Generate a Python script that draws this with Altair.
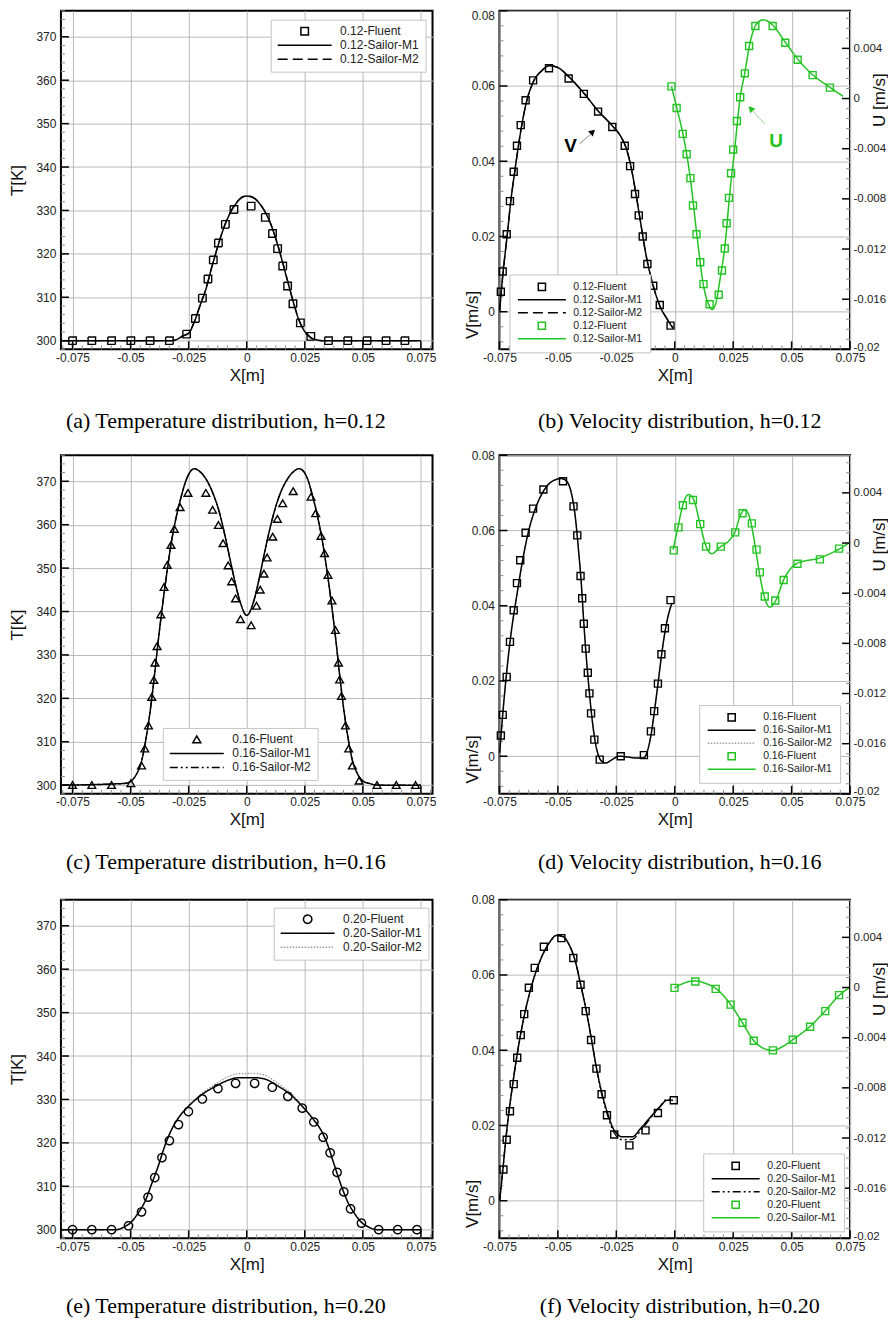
import altair as alt
import pandas as pd

FONT = "Liberation Sans"
SERIF = "Liberation Serif"
GREEN = "#22c322"
GRID = "#b9b9b9"
LBL = "toString(datum.value)"

LINE_SYM = "M-1,0H1"
SQ_L = "M-0.14,-0.14H0.14V0.14H-0.14Z"
SQ_R = "M-0.15,-0.15H0.15V0.15H-0.15Z"
TRI = "M0,-0.13L0.145,0.12L-0.145,0.12Z"
CIRC = "M0.155,0A0.155,0.155 0 1,1 -0.155,0A0.155,0.155 0 1,1 0.155,0Z"

WL, WR, H = 372, 351, 339

# ---------------- axis ticks ----------------
XT = [-0.075, -0.05, -0.025, 0.0, 0.025, 0.05, 0.075]
TT = [300, 310, 320, 330, 340, 350, 360, 370]
VT = [0.0, 0.02, 0.04, 0.06, 0.08]
UT = [-0.02, -0.016, -0.012, -0.008, -0.004, 0.0, 0.004]
XT_MINOR = [round(-0.075 + i * 0.025 / 6, 6) for i in range(-1, 38) if i % 6 != 0]
TT_MINOR = [v for v in range(298, 377, 2) if v % 10 != 0]
VT_MINOR = [round(-0.008 + i * 0.004, 4) for i in range(0, 23) if round(-0.008 + i * 0.004, 4) not in VT]
UT_MINOR = [round(-0.02 + i * 0.0008, 5) for i in range(0, 34) if i % 5 != 0]

# ---------------- (a) h=0.12 temperature ----------------
a_fl_x = [-0.0750, -0.0667, -0.0582, -0.0499, -0.0416, -0.0333, -0.0259, -0.0221, -0.0191, -0.0167,
          -0.0144, -0.0122, -0.0092, -0.0055, 0.0019, 0.0080, 0.0111, 0.0133, 0.0155, 0.0176,
          0.0199, 0.0231, 0.0276, 0.0352, 0.0435, 0.0518, 0.0600, 0.0681]
a_fl_T = [300, 300, 300, 300, 300, 300, 301.5, 305.1, 309.8, 314.2,
          318.6, 322.5, 326.8, 330.2, 331.0, 328.4, 324.7, 321.2, 317.2, 312.6,
          308.5, 304.1, 301.0, 300, 300, 300, 300, 300]
a_m1_x = [-0.08, -0.0325, -0.03, -0.0275, -0.025, -0.0225, -0.02, -0.0175, -0.015, -0.0125, -0.01,
          -0.0075, -0.005, -0.0025, 0.0, 0.0025, 0.005, 0.0075, 0.01, 0.0125, 0.015, 0.0175, 0.02,
          0.0225, 0.025, 0.0275, 0.03, 0.0325, 0.075]
a_m1_T = [300.0, 300.0, 300.3, 301.1, 301.7, 304.4, 308.2, 312.0, 317.0, 321.6, 325.8,
          329.0, 331.3, 332.8, 333.3, 333.0, 331.9, 330.0, 327.3, 323.5, 318.9, 313.9, 309.0,
          304.7, 302.1, 300.7, 300.2, 300.0, 300.0]
a_m2_x = a_m1_x
a_m2_T = [300.0, 300.0, 300.3, 301.1, 301.8, 304.5, 308.3, 312.1, 317.1, 321.7, 325.9,
          329.1, 331.4, 332.9, 333.4, 333.1, 332.0, 330.1, 327.4, 323.6, 319.0, 314.0, 309.1,
          304.8, 302.2, 300.8, 300.2, 300.0, 300.0]

# ---------------- (c) h=0.16 temperature ----------------
c_fl_x = [-0.0750, -0.0667, -0.0582, -0.0499, -0.0453, -0.0439, -0.0423, -0.0409, -0.0400, -0.0395,
          -0.0386, -0.0370, -0.0356, -0.0342, -0.0326, -0.0312, -0.0287, -0.0253, -0.0176, -0.0147,
          -0.0122, -0.0102, -0.0080, -0.0065, -0.0048, -0.0027, 0.0019, 0.0042, 0.0058, 0.0074,
          0.0088, 0.0112, 0.0132, 0.0155, 0.0200, 0.0277, 0.0297, 0.0320, 0.0335, 0.0350,
          0.0367, 0.0382, 0.0395, 0.0400, 0.0408, 0.0425, 0.0439, 0.0455, 0.0484, 0.0561,
          0.0644, 0.0727]
c_fl_T = [300, 300, 300, 300.4, 304.5, 308.4, 313.7, 320.3, 324.2, 328.2,
          332.0, 339.3, 345.6, 350.7, 355.3, 359.0, 364.0, 367.3, 367.3, 363.4,
          359.9, 355.7, 350.6, 346.9, 343.0, 338.2, 336.8, 341.3, 345.0, 348.7,
          352.4, 357.2, 361.3, 364.9, 367.7, 366.4, 362.6, 357.4, 353.4, 348.4,
          342.5, 335.7, 328.2, 324.3, 320.5, 313.7, 308.4, 304.5, 301.0, 300,
          300, 300]
c_m1_x = [-0.08, -0.0525, -0.0499, -0.0475, -0.0453, -0.0432, -0.0413, -0.0396, -0.0382,
          -0.0365, -0.0346, -0.0325, -0.0303, -0.0282, -0.0260, -0.0239, -0.0225,
          -0.0203, -0.0174, -0.0146, -0.0117, -0.0093, -0.0070, -0.0048, -0.0027, 0.0,
          0.0028, 0.0048, 0.0069, 0.0092, 0.0117, 0.0145, 0.0174, 0.0203, 0.0224,
          0.0241, 0.0263, 0.0284, 0.0305, 0.0327, 0.0349, 0.0368, 0.0385,
          0.0399, 0.0416, 0.0435, 0.0456, 0.0478, 0.0502, 0.0528, 0.0564, 0.075]
c_m1_T = [300, 300.4, 300.9, 302.5, 305.5, 311.3, 318.2, 325.9, 332.8,
          340.4, 348.1, 355.8, 361.9, 366.5, 370.4, 372.5, 372.9,
          372.3, 370.4, 367.3, 362.7, 357.3, 351.6, 346.2, 342.0, 339.1,
          342.0, 346.2, 351.6, 357.3, 362.7, 367.3, 370.4, 372.3, 372.9,
          372.5, 370.4, 366.5, 361.9, 355.8, 348.1, 340.4, 332.8,
          325.9, 318.2, 311.3, 305.5, 302.5, 300.9, 300.4, 300, 300]
c_m2_x = c_m1_x
c_m2_T = c_m1_T

# ---------------- (e) h=0.20 temperature ----------------
e_fl_x = [-0.0750, -0.0667, -0.0582, -0.0509, -0.0453, -0.0425, -0.0396, -0.0365, -0.0333, -0.0294,
          -0.0251, -0.0191, -0.0124, -0.0048, 0.0034, 0.0110, 0.0177, 0.0239, 0.0289, 0.0329,
          0.0359, 0.0389, 0.0418, 0.0447, 0.0494, 0.0568, 0.0650, 0.0733]
e_fl_T = [300, 300, 300, 300.9, 304.1, 307.5, 312.0, 316.6, 320.5, 324.2,
          327.2, 330.1, 332.5, 333.7, 333.7, 332.8, 330.7, 328.0, 324.8, 321.3,
          317.7, 313.2, 308.7, 304.8, 301.5, 300, 300, 300]
e_m1_x = [-0.08, -0.0561, -0.0525, -0.0496, -0.0468, -0.0439, -0.0411, -0.0382, -0.0354, -0.0325,
          -0.0296, -0.0253, -0.0196, -0.0138, -0.0081, -0.0038, 0.0034, 0.0077, 0.0134, 0.0191,
          0.0241, 0.0284, 0.0320, 0.0349, 0.0377, 0.0406, 0.0435, 0.0463, 0.0492, 0.0521,
          0.0564, 0.075]
e_m1_T = [300, 300, 300.7, 301.8, 303.8, 306.4, 310.3, 314.5, 319.1, 322.9,
          325.6, 328.3, 331.0, 332.9, 334.4, 335.0, 335.0, 334.7, 333.1, 331.0,
          328.3, 325.6, 322.9, 319.5, 314.9, 310.3, 306.4, 303.8, 301.8, 300.7,
          300, 300]
e_m2_x = e_m1_x
e_m2_T = [300, 300, 300.7, 301.8, 303.8, 306.4, 310.3, 314.5, 319.1, 322.9,
          325.6, 328.3, 331.3, 333.4, 335.2, 335.9, 336.0, 335.6, 333.7, 331.4,
          328.5, 325.7, 322.9, 319.5, 314.9, 310.3, 306.4, 303.8, 301.8, 300.7,
          300, 300]

# ---------------- (b) h=0.12 velocity ----------------
b_vfl_x = [-0.0744, -0.0736, -0.0719, -0.0705, -0.0689, -0.0675, -0.0659, -0.0638, -0.0606, -0.0538,
           -0.0454, -0.0389, -0.0328, -0.0267, -0.0214, -0.0191, -0.0170, -0.0154, -0.0137, -0.0117,
           -0.0092, -0.0064, -0.0018]
b_vfl_V = [0.0053, 0.0107, 0.0206, 0.0294, 0.0372, 0.0441, 0.0496, 0.0562, 0.0615, 0.0647,
           0.0620, 0.0579, 0.0532, 0.0491, 0.0441, 0.0387, 0.0313, 0.0256, 0.0200, 0.0127,
           0.0069, 0.0018, -0.0037]
b_vm1_x = [-0.0749, -0.0740, -0.0730, -0.0717, -0.0702, -0.0683, -0.0662, -0.0638, -0.0606, -0.0570,
           -0.0535, -0.0500, -0.0454, -0.0389, -0.0328, -0.0267, -0.0233, -0.0209, -0.0188, -0.0167,
           -0.0146, -0.0125, -0.0096, -0.0064, -0.0033, -0.0007]
b_vm1_V = [0.0003, 0.0069, 0.0131, 0.0202, 0.0291, 0.0379, 0.0468, 0.0548, 0.0610, 0.0640,
           0.0654, 0.0649, 0.0625, 0.0581, 0.0534, 0.0494, 0.0468, 0.0437, 0.0388, 0.0317,
           0.0237, 0.0158, 0.0078, 0.0016, -0.0019, -0.0044]
b_vm2_x = b_vm1_x
b_vm2_V = b_vm1_V
b_ufl_x = [-0.0014, 0.0008, 0.0034, 0.0051, 0.0067, 0.0078, 0.0093, 0.0109, 0.0123, 0.0149,
           0.0188, 0.0202, 0.0214, 0.0222, 0.0232, 0.0241, 0.0250, 0.0266, 0.0280, 0.0300,
           0.0318, 0.0345, 0.0419, 0.0473, 0.0526, 0.0590, 0.0664]
b_ufl_U = [0.00097, -0.00075, -0.00282, -0.00444, -0.00635, -0.00853, -0.01082, -0.01305, -0.01480, -0.01640,
           -0.01565, -0.01371, -0.01196, -0.00994, -0.00792, -0.00596, -0.00407, -0.00179, 0.00010, 0.00201,
           0.00419, 0.00578, 0.00578, 0.00445, 0.00309, 0.00187, 0.00087]
b_um1_x = [-0.0014, 0.0010, 0.0038, 0.0067, 0.0095, 0.0123, 0.0144, 0.0160, 0.0177, 0.0194,
           0.0215, 0.0236, 0.0258, 0.0279, 0.0300, 0.0321, 0.0347, 0.0378, 0.0419, 0.0473,
           0.0526, 0.0590, 0.0664, 0.0720]
b_um1_U = [0.00097, -0.00084, -0.00309, -0.00641, -0.01092, -0.01491, -0.01636, -0.01682, -0.01623, -0.01438,
           -0.01172, -0.00747, -0.00375, -0.00004, 0.00208, 0.00434, 0.00586, 0.00628, 0.00586, 0.00448,
           0.00315, 0.00190, 0.00089, 0.00018]
# annotations (b)
b_label_V = {"x": [-0.0446], "y": [0.0441], "t": ["V"]}
b_arrow_V = {"x": [-0.0408], "y": [0.0446], "x2": [-0.0361], "y2": [0.0471]}
b_head_V = {"x": [-0.0351], "y": [0.0478]}
b_label_U = {"x": [0.0434], "y": [-0.00335], "t": ["U"]}
b_arrow_U = {"x": [0.0385], "y": [-0.00203], "x2": [0.0333], "y2": [-0.00097]}
b_head_U = {"x": [0.0325], "y": [-0.0008]}

# ---------------- (d) h=0.16 velocity ----------------
d_vfl_x = [-0.0744, -0.0736, -0.0719, -0.0705, -0.0689, -0.0675, -0.0661, -0.0638, -0.0606, -0.0562,
           -0.0478, -0.0433, -0.0417, -0.0403, -0.0396, -0.0389, -0.0381, -0.0372, -0.0365, -0.0358,
           -0.0344, -0.0321, -0.0231, -0.0132, -0.0102, -0.0088, -0.0072, -0.0057, -0.0042, -0.0018]
d_vfl_V = [0.0055, 0.0110, 0.0211, 0.0304, 0.0388, 0.0460, 0.0521, 0.0594, 0.0658, 0.0709,
           0.0731, 0.0664, 0.0587, 0.0479, 0.0420, 0.0352, 0.0286, 0.0222, 0.0167, 0.0114,
           0.0044, -0.0009, 0.0, 0.0003, 0.0066, 0.0120, 0.0193, 0.0271, 0.0340, 0.0415]
d_vm1_x = [-0.0749, -0.0740, -0.0729, -0.0715, -0.0698, -0.0676, -0.0655, -0.0627, -0.0592, -0.0556,
           -0.0521, -0.0485, -0.0464, -0.0443, -0.0426, -0.0412, -0.0400, -0.0391, -0.0381, -0.0369,
           -0.0358, -0.0344, -0.0330, -0.0313, -0.0294, -0.0273, -0.0238, -0.0202, -0.0160, -0.0132,
           -0.0115, -0.0100, -0.0086, -0.0072, -0.0057, -0.0040, -0.0025, -0.0011]
d_vm1_V = [0.0009, 0.0080, 0.0160, 0.0248, 0.0337, 0.0426, 0.0506, 0.0594, 0.0665, 0.0710,
           0.0732, 0.0738, 0.0732, 0.0701, 0.0639, 0.0550, 0.0461, 0.0373, 0.0284, 0.0195,
           0.0124, 0.0053, 0.0009, -0.0013, -0.0018, -0.0011, 0.0, -0.0002, -0.0005, -0.0004,
           0.0018, 0.0062, 0.0124, 0.0191, 0.0266, 0.0337, 0.0381, 0.0408]
d_vm2_x = d_vm1_x
d_vm2_V = d_vm1_V
d_ufl_x = [-0.0004, 0.0016, 0.0035, 0.0078, 0.0109, 0.0134, 0.0197, 0.0259, 0.0290, 0.0330,
           0.0350, 0.0364, 0.0385, 0.0430, 0.0466, 0.0525, 0.0621, 0.0703]
d_ufl_U = [-0.00059, 0.00125, 0.00301, 0.00343, 0.00151, -0.00029, -0.00029, 0.00085, 0.00237, 0.00157,
           -0.00053, -0.00234, -0.00426, -0.00458, -0.00295, -0.00165, -0.00130, -0.00045]
d_um1_x = [-0.0007, 0.0013, 0.0035, 0.0059, 0.0081, 0.0109, 0.0134, 0.0158, 0.0194, 0.0236,
           0.0259, 0.0279, 0.0300, 0.0321, 0.0342, 0.0361, 0.0385, 0.0406, 0.0430, 0.0466,
           0.0526, 0.0618, 0.0703, 0.0750]
d_um1_U = [-0.00053, 0.00120, 0.00306, 0.00386, 0.00346, 0.00146, -0.00027, -0.00085, -0.00032, 0.00027,
           0.00093, 0.00213, 0.00266, 0.00200, 0.0, -0.00226, -0.00439, -0.00511, -0.00466, -0.00293,
           -0.00160, -0.00120, -0.00048, 0.00005]

# ---------------- (f) h=0.20 velocity ----------------
f_vfl_x = [-0.0733, -0.0719, -0.0705, -0.0689, -0.0674, -0.0659, -0.0644, -0.0624, -0.0599, -0.0560,
           -0.0485, -0.0434, -0.0403, -0.0381, -0.0358, -0.0335, -0.0313, -0.0290, -0.0259, -0.0194,
           -0.0125, -0.0072, -0.0004]
f_vfl_V = [0.0083, 0.0162, 0.0238, 0.0310, 0.0380, 0.0440, 0.0496, 0.0566, 0.0619, 0.0675,
           0.0698, 0.0645, 0.0574, 0.0504, 0.0427, 0.0351, 0.0283, 0.0227, 0.0176, 0.0147,
           0.0187, 0.0233, 0.0267]
f_vm1_x = [-0.0749, -0.0737, -0.0726, -0.0712, -0.0695, -0.0676, -0.0655, -0.0634, -0.0606, -0.0570,
           -0.0535, -0.0507, -0.0478, -0.0450, -0.0426, -0.0403, -0.0379, -0.0358, -0.0337, -0.0313,
           -0.0287, -0.0259, -0.0224, -0.0181, -0.0146, -0.0103, -0.0064, -0.0033, -0.0007]
f_vm1_V = [0.0002, 0.0072, 0.0143, 0.0223, 0.0302, 0.0382, 0.0457, 0.0519, 0.0585, 0.0647,
           0.0687, 0.0705, 0.0702, 0.0678, 0.0638, 0.0576, 0.0506, 0.0435, 0.0360, 0.0289,
           0.0232, 0.0187, 0.0170, 0.0170, 0.0192, 0.0223, 0.0249, 0.0267, 0.0267]
f_vm2_x = f_vm1_x
f_vm2_V = [0.0002, 0.0072, 0.0143, 0.0223, 0.0302, 0.0382, 0.0457, 0.0519, 0.0585, 0.0647,
           0.0687, 0.0705, 0.0702, 0.0678, 0.0638, 0.0576, 0.0506, 0.0435, 0.0360, 0.0284,
           0.0226, 0.0180, 0.0162, 0.0163, 0.0186, 0.0220, 0.0250, 0.0270, 0.0268]
f_ufl_x = [-0.0001, 0.0088, 0.0175, 0.0239, 0.0290, 0.0338, 0.0420, 0.0505, 0.0579, 0.0644, 0.0703]
f_ufl_U = [-0.00003, 0.00048, -0.00011, -0.00136, -0.00281, -0.00424, -0.00501, -0.00416, -0.00313, -0.00188, -0.00061]
f_um1_x = [-0.0001, 0.0038, 0.0088, 0.0130, 0.0175, 0.0208, 0.0239, 0.0290, 0.0338, 0.0378,
           0.0420, 0.0462, 0.0505, 0.0579, 0.0644, 0.0703, 0.0745]
f_um1_U = [-0.00003, 0.00034, 0.00053, 0.00034, -0.00006, -0.00064, -0.00136, -0.00281, -0.00424, -0.00483,
           -0.00502, -0.00470, -0.00416, -0.00310, -0.00186, -0.00064, -0.00003]


# ---------------- helpers ----------------
def df(x, y, s):
    return pd.DataFrame({"x": x, "y": y, "s": s})


def y_ticks(major, minor, scale, W, side):
    out = []
    for vals, ln, col, sw in [(minor, 4, "#8c8c8c", 1), (major, 8, "black", 1.5)]:
        d = pd.DataFrame({"v": vals})
        if side == "left":
            enc = dict(x=alt.value(0), x2=alt.value(ln))
        else:
            enc = dict(x=alt.value(W), x2=alt.value(W - ln))
        enc["y"] = alt.Y("v:Q", scale=scale)
        out.append(alt.Chart(d).mark_rule(color=col, strokeWidth=sw).encode(**enc))
    return out


def x_ticks(major, minor, scale):
    out = []
    for vals, ln, col, sw in [(minor, 4, "#8c8c8c", 1), (major, 8, "black", 1.5)]:
        d = pd.DataFrame({"v": [v for v in vals if scale.domain[0] <= v <= scale.domain[1]]})
        out.append(alt.Chart(d).mark_rule(color=col, strokeWidth=sw).encode(
            x=alt.X("v:Q", scale=scale), y=alt.value(H), y2=alt.value(H - ln)))
    return out


def make_legend(lx, ly, right):
    if right:
        return alt.Legend(title=None, orient="none", legendX=lx, legendY=ly, symbolSize=2304,
                          clipHeight=9.75, rowPadding=1, labelOffset=6.5, padding=7.5,
                          strokeColor="#c4c4c4", fillColor="white", labelFont=FONT,
                          labelFontSize=10.5, labelColor="#222", symbolStrokeWidth=1.5,
                          symbolFillColor="transparent")
    return alt.Legend(title=None, orient="none", legendX=lx, legendY=ly, symbolSize=2916,
                      clipHeight=11, rowPadding=1, labelOffset=7.5, padding=6,
                      strokeColor="#c4c4c4", fillColor="white", labelFont=FONT,
                      labelFontSize=12, labelColor="#222", symbolStrokeWidth=1.5,
                      symbolFillColor="transparent")


def caption_title(text, off, dx):
    return alt.TitleParams(text=text, orient="bottom", anchor="middle", frame="group", dx=dx,
                           font=SERIF, fontSize=22, fontWeight="normal", color="black", offset=off)


def axis_x():
    return alt.Axis(values=XT, labelExpr=LBL, title="X[m]", grid=True, gridColor=GRID, gridWidth=1,
                    ticks=False, tickSize=0, domain=False, labelPadding=3, labelFlush=False,
                    labelOverlap=False, labelFont=FONT, labelFontSize=12, labelColor="#222",
                    titleFont=FONT, titleFontSize=17, titleFontWeight="normal", titleColor="#111",
                    titleY=26, titleBaseline="middle")


def axis_y(values, title, tx, ty, orient="left", grid=True, pad=5, fsize=12, flush=False, flush_off=0):
    return alt.Axis(orient=orient, values=values, labelExpr=LBL, title=title, grid=grid,
                    gridColor=GRID, gridWidth=1, ticks=False, tickSize=0, domain=False,
                    labelPadding=pad, labelFlush=flush, labelFlushOffset=flush_off,
                    labelOverlap=False, labelFont=FONT,
                    labelFontSize=fsize, labelColor="#222", titleFont=FONT, titleFontSize=17,
                    titleFontWeight="normal", titleColor="#111", titleX=tx, titleY=ty,
                    titleAngle=270, titleBaseline="middle", titleAlign="center")


def temp_panel(fl_x, fl_T, m1_x, m1_T, m2_x, m2_T, tag, sym, psize, m2_color, m2_dash,
               lx, ly, caption, cap_off):
    keys = [f"{tag}-Fluent", f"{tag}-Sailor-M1", f"{tag}-Sailor-M2"]
    xs = alt.Scale(domain=[-0.08, 0.08], nice=False, zero=False)
    ys = alt.Scale(domain=[298, 376], nice=False, zero=False)
    leg = make_legend(lx, ly, False)
    col = alt.Color("s:N", scale=alt.Scale(domain=keys, range=["black", "black", m2_color]), legend=leg)
    shp = alt.Shape("s:N", scale=alt.Scale(domain=keys, range=[sym, LINE_SYM, LINE_SYM]), legend=leg)
    dsh = alt.StrokeDash("s:N", scale=alt.Scale(domain=keys, range=[[1, 0], [1, 0], m2_dash]), legend=leg)
    # M2 first (drawn underneath) and carrying the axes
    layers = [alt.Chart(df(m2_x, m2_T, keys[2])).mark_line(strokeWidth=1.3, interpolate="monotone").encode(
        x=alt.X("x:Q", scale=xs, axis=axis_x()),
        y=alt.Y("y:Q", scale=ys, axis=axis_y(TT, "T[K]", -43, H / 2)),
        color=col, strokeDash=dsh)]
    layers += y_ticks(TT, TT_MINOR, ys, WL, "left") + x_ticks(XT, XT_MINOR, xs)
    layers.append(alt.Chart(df(m1_x, m1_T, keys[1])).mark_line(strokeWidth=1.5, interpolate="monotone").encode(
        x=alt.X("x:Q", scale=xs), y=alt.Y("y:Q", scale=ys), color=col, strokeDash=dsh))
    layers.append(alt.Chart(df(fl_x, fl_T, keys[0])).mark_point(filled=False, strokeWidth=1.4, size=psize, opacity=1).encode(
        x=alt.X("x:Q", scale=xs), y=alt.Y("y:Q", scale=ys),
        color=col, shape=shp, strokeDash=dsh))
    return alt.layer(*layers).properties(width=WL, height=H, title=caption_title(caption, cap_off, -21))


def vel_panel(vfl_x, vfl_V, vm1_x, vm1_V, vm2_x, vm2_V, ufl_x, ufl_U, um1_x, um1_U, tag,
              m2_color, m2_dash, lx, ly, caption, cap_off, anno=None, vflush=False):
    keys = [f"{tag}-Fluent", f"{tag}-Sailor-M1", f"{tag}-Sailor-M2", f"{tag}-Fluent ", f"{tag}-Sailor-M1 "]
    xs = alt.Scale(domain=[-0.075, 0.075], nice=False, zero=False)
    vs = alt.Scale(domain=[-0.01, 0.08], nice=False, zero=False)
    us = alt.Scale(domain=[-0.02, 0.007], nice=False, zero=False)
    leg = make_legend(lx, ly, True)
    col = alt.Color("s:N", scale=alt.Scale(domain=keys, range=["black", "black", m2_color, GREEN, GREEN]), legend=leg)
    shp = alt.Shape("s:N", scale=alt.Scale(domain=keys, range=[SQ_R, LINE_SYM, LINE_SYM, SQ_R, LINE_SYM]), legend=leg)
    dsh = alt.StrokeDash("s:N", scale=alt.Scale(domain=keys, range=[[1, 0], [1, 0], m2_dash, [1, 0], [1, 0]]), legend=leg)
    PS = 2180
    vl = [alt.Chart(df(vm2_x, vm2_V, keys[2])).mark_line(strokeWidth=1.3, interpolate="monotone").encode(
        x=alt.X("x:Q", scale=xs, axis=axis_x()),
        y=alt.Y("y:Q", scale=vs, axis=axis_y(VT, "V[m/s]", -27, 304, flush=vflush)),
        color=col, strokeDash=dsh)]
    vl += y_ticks(VT, VT_MINOR, vs, WR, "left") + x_ticks(XT, XT_MINOR, xs)
    vl.append(alt.Chart(df(vm1_x, vm1_V, keys[1])).mark_line(strokeWidth=1.5, interpolate="monotone").encode(
        x=alt.X("x:Q", scale=xs), y=alt.Y("y:Q", scale=vs), color=col, strokeDash=dsh))
    vl.append(alt.Chart(df(vfl_x, vfl_V, keys[0])).mark_point(filled=False, strokeWidth=1.4, size=PS, opacity=1).encode(
        x=alt.X("x:Q", scale=xs), y=alt.Y("y:Q", scale=vs),
        color=col, shape=shp, strokeDash=dsh))
    ul = [alt.Chart(df(um1_x, um1_U, keys[4])).mark_line(strokeWidth=1.5, interpolate="monotone").encode(
        x=alt.X("x:Q", scale=xs),
        y=alt.Y("y:Q", scale=us, axis=axis_y(UT, "U [m/s]", 29, 89, orient="right", grid=False, pad=3,
                                              fsize=11.5, flush=True, flush_off=3)),
        color=col, strokeDash=dsh)]
    ul += y_ticks(UT, UT_MINOR, us, WR, "right")
    ul.append(alt.Chart(df(ufl_x, ufl_U, keys[3])).mark_point(filled=False, strokeWidth=1.4, size=PS, opacity=1).encode(
        x=alt.X("x:Q", scale=xs), y=alt.Y("y:Q", scale=us),
        color=col, shape=shp, strokeDash=dsh))
    if anno:
        lv, av, hv, lu, au, hu = anno
        X = lambda: alt.X("x:Q", scale=xs)
        vl.append(alt.Chart(pd.DataFrame(av)).mark_rule(color="#8a8a8a", strokeWidth=1).encode(
            x=X(), y=alt.Y("y:Q", scale=vs), x2="x2:Q", y2="y2:Q"))
        vl.append(alt.Chart(pd.DataFrame(hv)).mark_point(shape="triangle-up", filled=True, size=50, angle=48,
                                                         color="black", opacity=1).encode(
            x=X(), y=alt.Y("y:Q", scale=vs)))
        vl.append(alt.Chart(pd.DataFrame(lv)).mark_text(font=FONT, fontSize=19, fontWeight="bold", color="black").encode(
            x=X(), y=alt.Y("y:Q", scale=vs), text="t:N"))
        ul.append(alt.Chart(pd.DataFrame(au)).mark_rule(color="#9ad89a", strokeWidth=1).encode(
            x=X(), y=alt.Y("y:Q", scale=us), x2="x2:Q", y2="y2:Q"))
        ul.append(alt.Chart(pd.DataFrame(hu)).mark_point(shape="triangle-up", filled=True, size=50, angle=318,
                                                         color=GREEN, opacity=1).encode(
            x=X(), y=alt.Y("y:Q", scale=us)))
        ul.append(alt.Chart(pd.DataFrame(lu)).mark_text(font=FONT, fontSize=19, fontWeight="bold", color=GREEN).encode(
            x=X(), y=alt.Y("y:Q", scale=us), text="t:N"))
    return alt.layer(alt.layer(*vl), alt.layer(*ul)).resolve_scale(y="independent").properties(
        width=WR, height=H, title=caption_title(caption, cap_off, 5))


pa = temp_panel(a_fl_x, a_fl_T, a_m1_x, a_m1_T, a_m2_x, a_m2_T, "0.12", SQ_L, 2870, "black", [10, 5],
                210, 9, "(a) Temperature distribution, h=0.12", 28)
pb = vel_panel(b_vfl_x, b_vfl_V, b_vm1_x, b_vm1_V, b_vm2_x, b_vm2_V, b_ufl_x, b_ufl_U, b_um1_x, b_um1_U,
               "0.12", "black", [10, 5], 10, 264, "(b) Velocity distribution, h=0.12", 28,
               anno=(b_label_V, b_arrow_V, b_head_V, b_label_U, b_arrow_U, b_head_U), vflush=True)
pc = temp_panel(c_fl_x, c_fl_T, c_m1_x, c_m1_T, c_m2_x, c_m2_T, "0.16", TRI, 2870, "black", [8, 3, 2, 3, 2, 3],
                102, 273, "(c) Temperature distribution, h=0.16", 24)
pd_ = vel_panel(d_vfl_x, d_vfl_V, d_vm1_x, d_vm1_V, d_vm2_x, d_vm2_V, d_ufl_x, d_ufl_U, d_um1_x, d_um1_U,
                "0.16", "#a0a0a0", [1.5, 1.5], 200, 250, "(d) Velocity distribution, h=0.16", 24)
pe = temp_panel(e_fl_x, e_fl_T, e_m1_x, e_m1_T, e_m2_x, e_m2_T, "0.20", CIRC, 2870, "#9a9a9a", [1.5, 1.5],
                213, 8, "(e) Temperature distribution, h=0.20", 24)
pf = vel_panel(f_vfl_x, f_vfl_V, f_vm1_x, f_vm1_V, f_vm2_x, f_vm2_V, f_ufl_x, f_ufl_U, f_um1_x, f_um1_U,
               "0.20", "black", [8, 3, 2, 3, 2, 3], 204, 254, "(f) Velocity distribution, h=0.20", 24)

chart = alt.concat(
    pa, pb, pc, pd_, pe, pf, columns=2, spacing={"row": 106, "column": 67}, bounds="flush"
).resolve_scale(
    color="independent", shape="independent", strokeDash="independent"
).resolve_legend(
    color="independent", shape="independent", strokeDash="independent"
).properties(
    padding={"left": 0, "top": 0, "right": 0, "bottom": 0}
).configure_view(
    stroke="black", strokeWidth=2
)

chart.save("out.html", embed_options={"renderer": "svg", "actions": False})
